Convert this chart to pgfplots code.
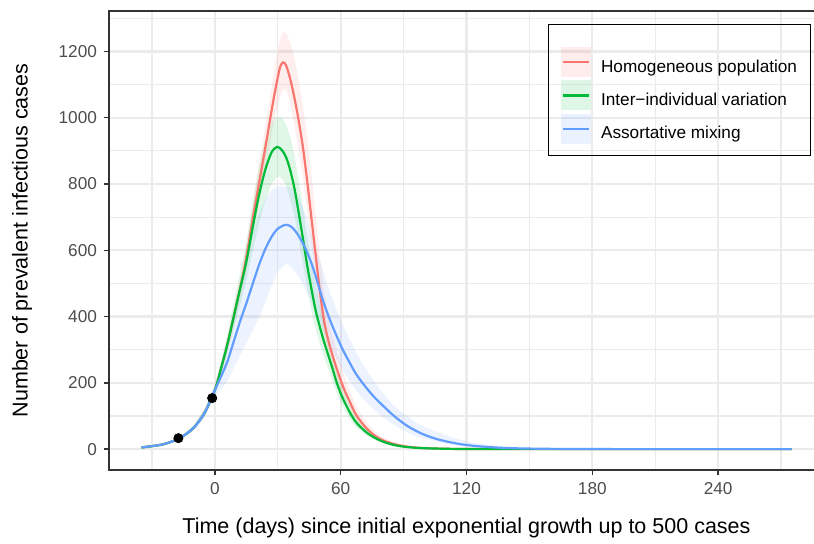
\documentclass[border=0pt]{standalone}
\usepackage{pgfplots}
\pgfplotsset{compat=1.18}
\usepgfplotslibrary{fillbetween}
\usepackage{pgfplotstable}
\usepackage{fontspec}
\setmainfont{Liberation Sans}

\definecolor{hpcol}{HTML}{F8766D}
\definecolor{ivcol}{HTML}{00BA38}
\definecolor{amcol}{HTML}{619CFF}
\definecolor{gridcol}{HTML}{EBEBEB}
\definecolor{framecol}{HTML}{333333}
\definecolor{tickcol}{HTML}{4D4D4D}

% t, median, lower, upper
\pgfplotstableread{
t y lo hi
-35 5 4.5 5.5
-30 9 8 10
-25 14 13 15.5
-20 24 22 26.5
-15 40 37 44
-10 65 60 72
-5 108 99 120
0 178 170 186
3 245 232 258
6 317 298 336
9 400 375 425
12 485 455 515
15 578 540 615
18 693 645 740
21 800 745 855
24 908 845 970
27 1020 950 1090
29 1090 1010 1170
31 1150 1060 1235
32.5 1167 1085 1259
34 1157 1085 1255
36 1115 1045 1225
38 1058 975 1180
40 990 900 1110
42 910 820 1035
44 810 725 940
46 700 620 830
48 590 520 710
50 480 420 585
52 390 340 478
54 330 285 400
56 285 245 345
58 245 210 298
60 208 178 255
62 175 148 215
64 148 125 182
66 120 100 150
68 97 81 122
72 65 53 83
76 42 34 55
80 27 21 36
85 16 12 22
90 9 7 13
95 5 3.8 7.5
100 3 2.2 4.6
110 1 0.7 1.6
120 0.3 0.2 0.5
130 0.1 0 0.2
150 0 0 0
275 0 0 0
}\homog

\pgfplotstableread{
t y lo hi
-35 5 4.5 5.5
-30 9 8 10
-25 14 13 15.5
-20 24 22 26.5
-15 40 37 44
-10 65 60 72
-5 108 99 120
0 178 164 194
3 245 224 268
6 317 288 348
9 400 362 440
12 483 435 532
15 565 505 625
18 668 595 740
21 765 680 850
24 842 748 935
27 895 800 985
29.7 912 823 1002
32 902 818 998
34 880 795 980
36 840 752 942
38 785 700 885
40 712 630 808
42 635 558 728
44 555 485 642
46 485 420 565
48 420 362 492
50 370 318 435
52 325 278 385
54 285 242 338
56 245 206 293
58 203 170 245
60 168 140 205
62 140 116 172
64 115 95 142
66 93 76 116
68 76 62 95
72 52 42 66
76 35 28 45
80 23 18 30
85 13 10 17.5
90 7.5 5.7 10.5
95 4.5 3.3 6.3
100 2.7 2 3.8
110 1 0.7 1.5
120 0.3 0.2 0.5
130 0.1 0 0.2
150 0 0 0
275 0 0 0
}\interind

\pgfplotstableread{
t y lo hi
-35 5 4.5 5.5
-30 9 8 10
-25 14 13 15.5
-20 24 22 26.5
-15 40 37 44
-10 65 60 72
-5 108 99 120
0 178 160 195
3 220 180 260
6 265 205 335
9 325 245 415
12 385 283 500
15 440 320 580
18 498 358 650
21 555 396 710
24 603 443 755
27 640 492 782
30 665 535 793
34 677 561 793
37 668 545 785
40 643 520 760
43 608 485 715
46 562 445 650
49 502 400 590
52 440 355 530
55 388 312 470
58 342 272 420
61 300 237 375
64 264 207 335
67 230 180 298
70 203 157 262
73 179 137 232
76 157 118 205
80 132 97 170
84 108 79 140
88 87 63 117
92 69 50 98
96 55 39 80
100 43 31 67
106 30 22 52
112 21 14 38
118 14 9.5 26
125 9 6 17
135 4.5 3 9
145 2.2 1.4 5
160 0.8 0.4 1.8
180 0.2 0 0.5
200 0 0 0.1
275 0 0 0
}\assort

\begin{document}
\begin{tikzpicture}
\begin{axis}[
  at={(0pt,0pt)}, anchor=north west,
  scale only axis, width=357.5pt, height=229.5pt,
  xmin=-50.5, xmax=290.5, ymin=-63, ymax=1322,
  xtick={0,60,...,240}, ytick={0,200,...,1200},
  minor xtick={-30,30,90,150,210,270},
  minor ytick={100,300,...,1300},
  grid=both,
  major grid style={gridcol, line width=1.1pt},
  minor grid style={gridcol, line width=0.55pt},
  axis line style={framecol, line width=0.7pt},
  tick pos=left, tick align=outside,
  major tick length=2.5pt, minor tick length=0pt,
  tick style={framecol, line width=0.7pt},
  ticklabel style={font=\fontsize{8.6}{10}\selectfont, text=tickcol},
  /pgf/number format/assume math mode=true,
  /pgf/number format/1000 sep={},
  xlabel={Time (days) since initial exponential growth up to 500 cases},
  ylabel={Number of prevalent infectious cases},
  label style={font=\fontsize{10.75}{13}\selectfont},
  xlabel style={at={(axis description cs:0.5,-0.1264)}, anchor=center},
  ylabel style={at={(axis description cs:-0.1217,0.5)}, anchor=center},
  legend style={at={(axis description cs:0.6317,0.9222)}, anchor=north west,
    draw=none, fill=none, inner sep=0pt, row sep=1.65pt,
    nodes={inner sep=0pt, font=\fontsize{8.6}{10}\selectfont},
    /tikz/every odd column/.append style={column sep=5pt}},
  legend cell align=left,
]
% ribbons
\addplot[name path=hph, draw=none, forget plot] table[x=t,y=hi]{\homog};
\addplot[name path=hpl, draw=none, forget plot] table[x=t,y=lo]{\homog};
\addplot[hpcol, fill opacity=0.12, draw=none, forget plot] fill between[of=hph and hpl];
\addplot[name path=ivh, draw=none, forget plot] table[x=t,y=hi]{\interind};
\addplot[name path=ivl, draw=none, forget plot] table[x=t,y=lo]{\interind};
\addplot[ivcol, fill opacity=0.12, draw=none, forget plot] fill between[of=ivh and ivl];
\addplot[name path=amh, draw=none, forget plot] table[x=t,y=hi]{\assort};
\addplot[name path=aml, draw=none, forget plot] table[x=t,y=lo]{\assort};
\addplot[amcol, fill opacity=0.12, draw=none, forget plot] fill between[of=amh and aml];
% lines
\addplot[hpcol, line width=1.1pt, smooth,
  legend image code/.code={\path[fill=hpcol, fill opacity=0.13, draw=none] (0pt,-4.8pt) rectangle (15pt,10.2pt);
    \path[draw=hpcol, line width=1.2pt] (0.8pt,2.7pt) -- (14.2pt,2.7pt);}]
  table[x=t,y=y]{\homog};
\addlegendentry{Homogeneous population}
\addplot[ivcol, line width=1.1pt, smooth,
  legend image code/.code={\path[fill=ivcol, fill opacity=0.13, draw=none] (0pt,-4.8pt) rectangle (15pt,10.2pt);
    \path[draw=ivcol, line width=1.2pt] (0.8pt,2.7pt) -- (14.2pt,2.7pt);}]
  table[x=t,y=y]{\interind};
\addlegendentry{Inter−individual variation}
\addplot[amcol, line width=1.1pt, smooth,
  legend image code/.code={\path[fill=amcol, fill opacity=0.13, draw=none] (0pt,-4.8pt) rectangle (15pt,10.2pt);
    \path[draw=amcol, line width=1.2pt] (0.8pt,2.7pt) -- (14.2pt,2.7pt);}]
  table[x=t,y=y]{\assort};
\addlegendentry{Assortative mixing}
% observed points
\addplot[only marks, mark=*, mark size=2.3pt, black, forget plot]
  coordinates {(-17.4,33) (-1.3,154)};
\end{axis}
\draw[black, line width=0.6pt] (219.65pt,-6.65pt) rectangle (350.85pt,-72.35pt);
\pgfresetboundingbox
\path[use as bounding box] (-54.5pt,5.5pt) rectangle (352.5pt,-266.5pt);
\end{tikzpicture}
\end{document}
